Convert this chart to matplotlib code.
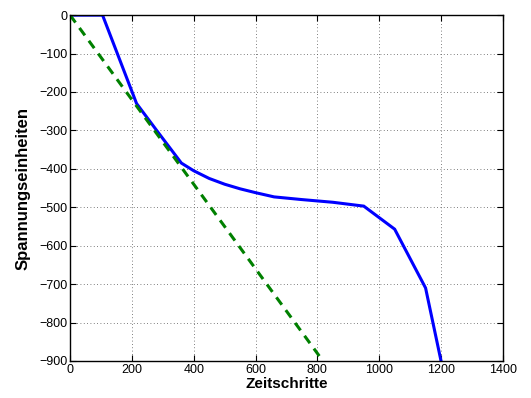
import matplotlib
matplotlib.use("Agg")
import matplotlib.pyplot as plt

# Measured voltage curve (blue) and linear reference (green)
blue_x = [0, 105, 215, 280, 360, 400, 450, 500, 550, 600, 660, 750, 850, 950, 1050, 1150, 1200]
blue_y = [0, 0, -230, -300, -385, -405, -425, -440, -452, -462, -473, -480, -487, -497, -557, -710, -900]
green_x = [0, 818]
green_y = [0, -900]

x_ticks = [0, 200, 400, 600, 800, 1000, 1200, 1400]
y_ticks = [0, -100, -200, -300, -400, -500, -600, -700, -800, -900]

plt.rcParams['font.family'] = ['Liberation Sans', 'DejaVu Sans']

fig = plt.figure(figsize=(5.31, 3.98), dpi=100)
ax = fig.add_axes([0.132, 0.093, 0.815, 0.869])

ax.plot(blue_x, blue_y, color='#0000ff', linewidth=2.2, solid_joinstyle='miter')
ax.plot(green_x, green_y, color='#008000', linewidth=2.2, linestyle=(0, (3, 2.2)))

ax.set_xlim(0, 1400)
ax.set_ylim(-900, 0)
ax.set_xticks(x_ticks)
ax.set_yticks(y_ticks)
ax.set_xticklabels([str(v) for v in x_ticks])
ax.set_yticklabels([str(v).replace('-', '\u2212') for v in y_ticks])

ax.tick_params(direction='in', top=True, right=True, labelsize=9, length=4, width=0.8, pad=2)
ax.grid(True, color='#555555', linestyle=(0, (1, 3)), linewidth=0.6)
for sp in ax.spines.values():
    sp.set_linewidth(1.0)

ax.set_xlabel('Zeitschritte', fontsize=11, fontweight='bold', labelpad=1)
ax.set_ylabel('Spannungseinheiten', fontsize=12, fontweight='bold', labelpad=6)

fig.savefig('out.png', dpi=100)
